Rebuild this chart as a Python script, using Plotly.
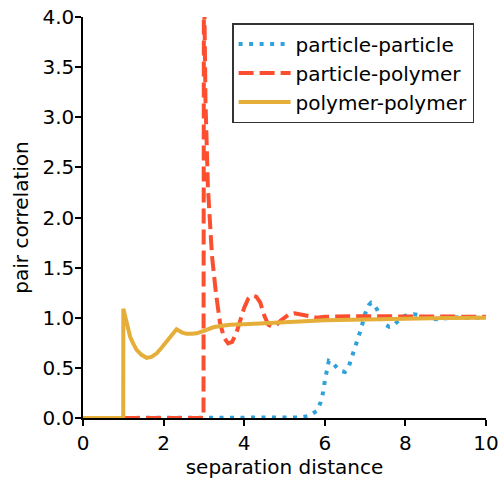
import plotly.graph_objects as go

# particle-particle
pp_x = [0, 3.0, 4.0, 5.0, 5.4, 5.6, 5.7, 5.8, 5.9, 5.96, 6.0, 6.05, 6.1, 6.2, 6.3, 6.4, 6.5,
        6.6, 6.7, 6.8, 6.9, 7.0, 7.1, 7.15, 7.2, 7.3, 7.4, 7.5, 7.6, 7.7, 7.8, 7.9, 8.0,
        8.1, 8.2, 8.3, 8.4, 8.5, 8.6, 8.8, 9.0, 9.2, 9.4, 9.6, 9.8, 10.0]
pp_y = [0, 0, 0, 0.01, 0.005, 0.02, 0.04, 0.07, 0.16, 0.26, 0.37, 0.48, 0.57, 0.55, 0.50, 0.47, 0.46,
        0.52, 0.64, 0.76, 0.89, 1.04, 1.13, 1.15, 1.14, 1.08, 0.99, 0.93, 0.91, 0.92, 0.96, 1.0, 1.02,
        1.03, 1.035, 1.03, 1.02, 1.0, 0.99, 0.985, 0.995, 1.005, 1.0, 1.0, 1.0, 1.0]

# particle-polymer
pm_x = [0, 2.99, 3.0, 3.04, 3.1, 3.2, 3.3, 3.4, 3.5, 3.6, 3.7, 3.8, 3.9, 4.0, 4.1, 4.2, 4.3,
        4.4, 4.5, 4.6, 4.7, 4.8, 4.9, 5.0, 5.1, 5.25, 5.4, 5.6, 5.8, 6.0, 6.3, 6.6, 7.0,
        7.5, 8.0, 8.5, 9.0, 9.5, 10.0]
pm_y = [0, 0, 4.5, 3.15, 2.3, 1.62, 1.24, 0.95, 0.8, 0.745, 0.76, 0.84, 0.97, 1.1, 1.19, 1.22, 1.21,
        1.15, 1.02, 0.93, 0.91, 0.93, 0.97, 1.0, 1.03, 1.045, 1.03, 1.01, 1.0, 1.01, 1.015, 1.015, 1.015,
        1.015, 1.015, 1.015, 1.012, 1.01, 1.01]

# polymer-polymer
mm_x = [0, 0.999, 1.0, 1.05, 1.1, 1.17, 1.25, 1.33, 1.45, 1.58, 1.7, 1.83, 1.95, 2.08, 2.2, 2.32,
        2.45, 2.57, 2.7, 2.82, 3.0, 3.23, 3.45, 3.65, 4.0, 4.4, 4.9, 5.5, 6.0, 7.0, 8.0, 9.0, 10.0]
mm_y = [0, 0, 1.09, 1.0, 0.92, 0.81, 0.74, 0.68, 0.63, 0.60, 0.61, 0.645, 0.70, 0.76, 0.82, 0.885,
        0.855, 0.84, 0.84, 0.845, 0.87, 0.905, 0.92, 0.93, 0.935, 0.945, 0.955, 0.965, 0.975, 0.985,
        0.992, 0.997, 1.0]

x_ticks = [0, 2, 4, 6, 8, 10]
y_ticks = [0.0, 0.5, 1.0, 1.5, 2.0, 2.5, 3.0, 3.5, 4.0]

FONT = "DejaVu Sans"

fig = go.Figure()
fig.add_trace(go.Scatter(x=pp_x, y=pp_y, mode="lines", name="particle-particle",
                         line=dict(color="#30a2da", width=4, dash="4px,6.5px")))
fig.add_trace(go.Scatter(x=pm_x, y=pm_y, mode="lines", name="particle-polymer",
                         line=dict(color="#fc4f30", width=4, dash="15px,6px")))
fig.add_trace(go.Scatter(x=mm_x, y=mm_y, mode="lines", name="polymer-polymer",
                         line=dict(color="#e5ae38", width=4)))

axis_common = dict(showgrid=False, zeroline=False, showline=True, linecolor="black",
                   linewidth=1.5, ticks="outside", ticklen=6, tickwidth=1.5,
                   tickcolor="black", tickfont=dict(family=FONT, size=20, color="black"),
                   mirror=False, automargin=False)

fig.update_layout(
    width=502, height=479,
    margin=dict(l=83, r=16, t=17, b=61),
    plot_bgcolor="white", paper_bgcolor="white",
    font=dict(family=FONT, size=20, color="black"),
    xaxis=dict(range=[0, 10], tickvals=x_ticks, ticktext=[str(v) for v in x_ticks],
               title=dict(text="separation distance", font=dict(family=FONT, size=20)),
               **axis_common),
    yaxis=dict(range=[0, 4], tickvals=y_ticks, ticktext=[f"{v:.1f}" for v in y_ticks],
               title=dict(text="pair correlation", font=dict(family=FONT, size=20), standoff=8),
               ticklabelstandoff=-3,
               **axis_common),
    showlegend=True,
    legend=dict(x=0.37, y=0.985, xanchor="left", yanchor="top",
                bgcolor="white", bordercolor="#333333", borderwidth=1.5,
                font=dict(family=FONT, size=20, color="black"),
                itemwidth=52, tracegroupgap=0),
)

fig.write_html("out.html", post_script="document.body.style.margin='0px';",
               config={"displayModeBar": False})
